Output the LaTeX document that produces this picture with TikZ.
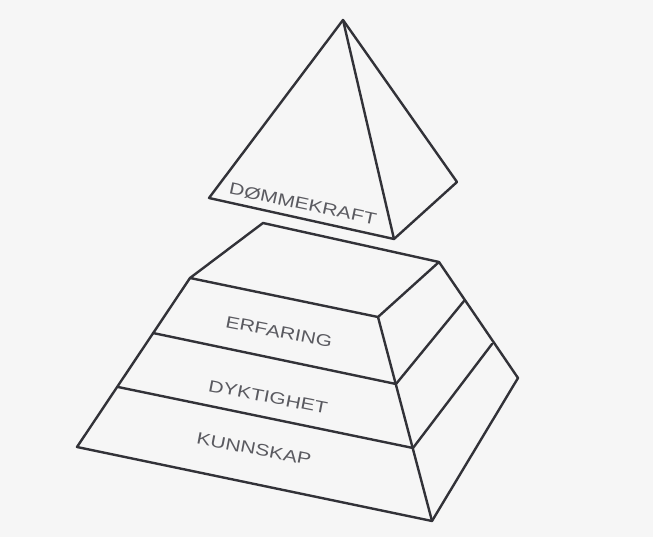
\documentclass[tikz,border=0pt]{standalone}
\usepackage{fontspec}
\setmainfont{Liberation Sans}
\newfontfamily\widefont[FakeStretch=1.28]{Liberation Sans}
\definecolor{bgc}{RGB}{246,246,246}
\definecolor{linec}{RGB}{50,50,56}
\definecolor{textc}{RGB}{90,90,96}
\tikzset{
  edge/.style={draw=linec, line width=2.4pt, line join=round, line cap=round},
  lbl/.style={text=textc, inner sep=0pt, font=\widefont\fontsize{16.5}{18}\selectfont}
}
\begin{document}
\begin{tikzpicture}[x=1pt,y=-1pt]
\fill[bgc] (0,0) rectangle (653,537);
\useasboundingbox (0,0) rectangle (653,537);
% top pyramid
\coordinate (A) at (343,20);
\coordinate (L) at (209,198);
\coordinate (F) at (394,239);
\coordinate (R) at (457,182);
\draw[edge] (A) -- (L) -- (F) -- (R) -- cycle;
\draw[edge] (A) -- (F);
% frustum
\coordinate (T0) at (263,223);
\coordinate (T1) at (439,262);
\coordinate (FL0) at (190,278);
\coordinate (FM0) at (378,317);
\coordinate (FL1) at (153,333);
\coordinate (FM1) at (396,384);
\coordinate (FR1) at (464,301);
\coordinate (FL2) at (118,387);
\coordinate (FM2) at (413,448);
\coordinate (FR2) at (492,344);
\coordinate (FL3) at (77,447);
\coordinate (FM3) at (432,521);
\coordinate (FR3) at (518,378);
\draw[edge] (FL0) -- (T0) -- (T1) -- (FM0) -- cycle;
\draw[edge] (FL0) -- (FL3) -- (FM3) -- (FR3) -- (T1);
\draw[edge] (FM0) -- (FM3);
\draw[edge] (FL1) -- (FM1) -- (FR1);
\draw[edge] (FL2) -- (FM2) -- (FR2);
% labels
\node[lbl, rotate=-12] (dom) at (303,204) {DØMMEKRAFT};
\node[lbl, rotate=-11] (erf) at (279,332) {ERFARING};
\node[lbl, rotate=-11] (dyk) at (268,397) {DYKTIGHET};
\node[lbl, rotate=-11] (kun) at (254,449) {KUNNSKAP};
\end{tikzpicture}
\end{document}
